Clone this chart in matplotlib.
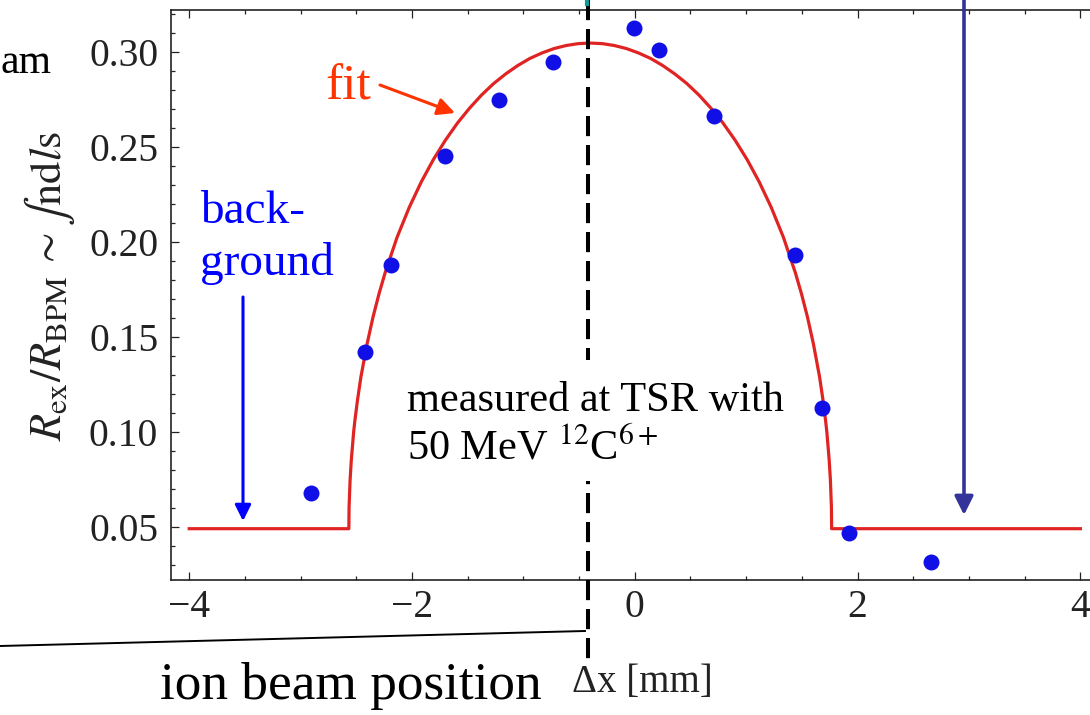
import matplotlib
matplotlib.use('Agg')
import matplotlib.pyplot as plt
from matplotlib.ticker import MultipleLocator, FixedLocator, FixedFormatter
from matplotlib.transforms import blended_transform_factory
from matplotlib.lines import Line2D
from matplotlib.patches import Rectangle

plt.rcParams['font.family'] = ['Liberation Serif', 'DejaVu Serif']
plt.rcParams['mathtext.fontset'] = 'stix'

# ---------------- data ----------------
dx_mm = [-2.91, -2.42, -2.19, -1.70, -1.22, -0.73, -0.01, 0.22, 0.71, 1.44, 1.68, 1.92, 2.66]
ratio = [0.0676, 0.1421, 0.188, 0.2453, 0.2746, 0.2944, 0.3126, 0.3010, 0.2662, 0.193, 0.1123, 0.0465, 0.0313]

fit_x = [-4.0, -2.567, -2.565, -2.556, -2.545, -2.524, -2.513, -2.491, -2.459, -2.404,
         -2.350, -2.296, -2.242, -2.134, -2.025, -1.917, -1.809, -1.700, -1.592, -1.484,
         -1.375, -1.267, -1.158, -1.050, -0.942, -0.833, -0.725, -0.617, -0.508, -0.400,
         -0.292, -0.183, -0.075, 0.033, 0.142, 0.250, 0.358, 0.467, 0.575, 0.684,
         0.792, 0.900, 1.009, 1.117, 1.225, 1.334, 1.442, 1.496, 1.550, 1.604,
         1.659, 1.691, 1.713, 1.724, 1.745, 1.756, 1.765, 1.767, 4.0]
fit_y = [0.049, 0.049, 0.0604, 0.0745, 0.0851, 0.0999, 0.1058, 0.1160, 0.1288, 0.1461,
         0.1604, 0.1727, 0.1836, 0.2024, 0.2181, 0.2315, 0.2432, 0.2535, 0.2625, 0.2703,
         0.2773, 0.2833, 0.2884, 0.2928, 0.2965, 0.2994, 0.3017, 0.3033, 0.3043, 0.3046,
         0.3043, 0.3033, 0.3017, 0.2994, 0.2965, 0.2928, 0.2884, 0.2833, 0.2773, 0.2703,
         0.2625, 0.2535, 0.2432, 0.2315, 0.2181, 0.2024, 0.1836, 0.1727, 0.1604, 0.1461,
         0.1288, 0.1160, 0.1058, 0.0999, 0.0851, 0.0745, 0.0604, 0.049, 0.049]

beam_position = -0.42
x_ticks = [-4, -2, 0, 2, 4]
x_tick_labels = ['\u22124', '\u22122', '0', '2', '4']
y_ticks = [0.05, 0.10, 0.15, 0.20, 0.25, 0.30]
y_tick_labels = ['0.05', '0.10', '0.15', '0.20', '0.25', '0.30']

# ---------------- figure ----------------
W, H = 1090, 715
fig = plt.figure(figsize=(W / 100, H / 100), dpi=100)
fig.patch.set_facecolor('white')


def fx(x):
    return x / W


def fy(y):
    return 1 - y / H


ax = fig.add_axes([fx(171.4), fy(580), 926.8 / W, 570 / H])
ax.set_xlim(-4.16, 4.16)
ax.set_ylim(0.022, 0.322)

ax.plot(fit_x, fit_y, color='#e02424', lw=2.3, zorder=2, solid_joinstyle='round')
ax.plot(dx_mm, ratio, 'o', color='#1010e6', ms=11.5, mec='none', zorder=3)

ax.xaxis.set_major_locator(FixedLocator(x_ticks))
ax.xaxis.set_major_formatter(FixedFormatter(x_tick_labels))
ax.xaxis.set_minor_locator(MultipleLocator(0.5))
ax.yaxis.set_major_locator(FixedLocator(y_ticks))
ax.yaxis.set_major_formatter(FixedFormatter(y_tick_labels))
ax.yaxis.set_minor_locator(MultipleLocator(0.01))

ax.tick_params(which='both', direction='in', top=True, right=True, width=0.9, color='#222222')
ax.tick_params(which='major', length=5.5)
ax.tick_params(which='minor', length=3)
ax.tick_params(axis='x', which='major', pad=6.5, labelsize=28.5, labelcolor='#222222')
ax.tick_params(axis='y', which='major', pad=9.5, labelsize=28.5, labelcolor='#222222')
for s in ax.spines.values():
    s.set_linewidth(1.2)
    s.set_color('#222222')

# y label
fig.text(fx(61), fy(286), r'$R_{\mathrm{ex}}/R_{\mathrm{BPM}}\,{\sim}\int\mathrm{nd}l\mathrm{s}$',
         rotation=90, rotation_mode='anchor', ha='center', va='baseline',
         fontsize=32, color='#222222')
# x label
fig.text(fx(642), fy(692), '\u0394x [mm]', ha='center', va='baseline', fontsize=28, color='#222222')

# dashed beam-position line
trans = blended_transform_factory(ax.transData, fig.transFigure)
ax.add_line(Line2D([beam_position, beam_position], [1.0, fy(665)], transform=trans,
                   color='black', lw=2.9, dashes=(5, 2.2), clip_on=False, zorder=4))

# teal tip at top
fig.add_artist(Line2D([fx(586.5), fx(586.5)], [fy(0), fy(4)], color='#109a9a', lw=3))

# white box + annotation text
fig.add_artist(Rectangle((fx(395), fy(481)), 408 / W, 121 / H, transform=fig.transFigure,
                         facecolor='white', edgecolor='none', zorder=1))
fig.text(fx(407), fy(411), 'measured at TSR with', fontsize=30.5, color='black', zorder=2)
fig.text(fx(407), fy(460), r'50 MeV $^{12}$C$^{6+}$', fontsize=30.5, color='black', zorder=2)

# fit label and arrow
fig.text(fx(325), fy(100), 'fit', fontsize=37, color='#ff3300')
ax.annotate('', xy=(fx(455), fy(113)), xytext=(fx(380), fy(85)),
            xycoords='figure fraction', textcoords='figure fraction',
            arrowprops=dict(arrowstyle='-|>', color='#ff3300', lw=2.2, mutation_scale=26,
                            shrinkA=0, shrinkB=0))

# background label and arrow
fig.text(fx(200), fy(223), 'back-', fontsize=34, color='#0000ff')
fig.text(fx(200), fy(275), 'ground', fontsize=34, color='#0000ff')
ax.annotate('', xy=(fx(243), fy(521)), xytext=(fx(243), fy(297)),
            xycoords='figure fraction', textcoords='figure fraction',
            arrowprops=dict(arrowstyle='-|>', color='#0000ff', lw=2.2, mutation_scale=24,
                            shrinkA=0, shrinkB=0))

# navy arrow on the right
ax.annotate('', xy=(fx(964), fy(515)), xytext=(fx(964), fy(-5)),
            xycoords='figure fraction', textcoords='figure fraction',
            arrowprops=dict(arrowstyle='-|>', color='#333399', lw=2.6, mutation_scale=28,
                            shrinkA=0, shrinkB=0))

# slide fragments
fig.text(fx(1), fy(73), 'am', fontsize=30, color='black', ha='left')
fig.text(fx(160), fy(699), 'ion beam position', fontsize=38.3, color='black')
fig.add_artist(Line2D([fx(0), fx(585)], [fy(646), fy(631)], color='black', lw=1.4))

fig.savefig('out.png', dpi=100)
